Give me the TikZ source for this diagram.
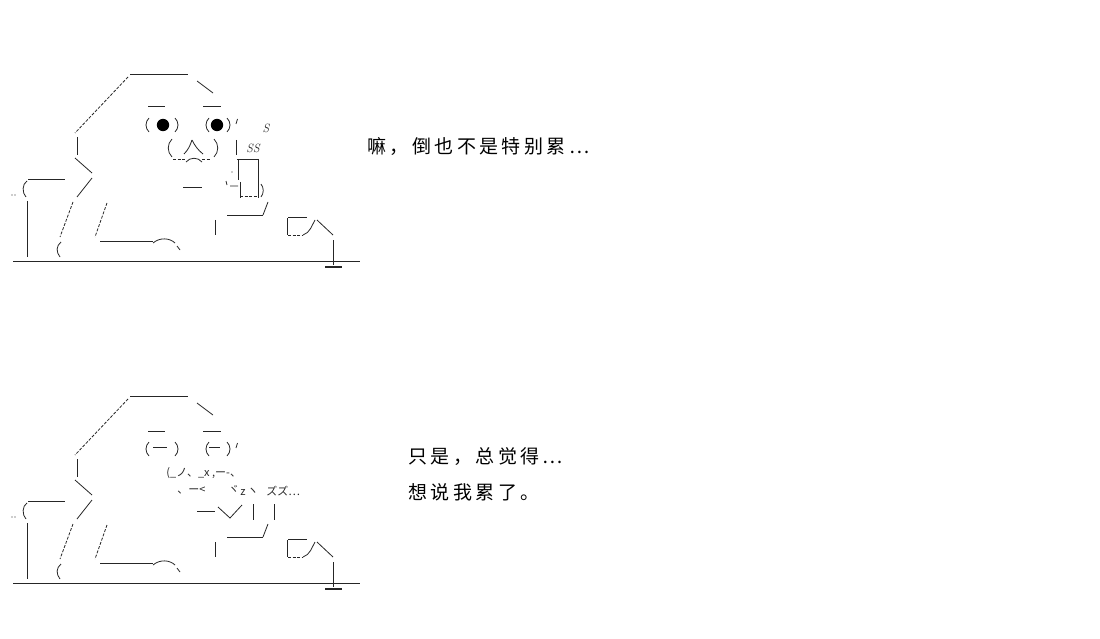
\documentclass[tikz,border=0pt]{standalone}
\usepackage{fontspec}
\newfontfamily\cjksc[LetterSpace=18]{Noto Sans CJK SC}
\newfontfamily\cjkjp{Noto Sans CJK JP}
\begin{document}
\begin{tikzpicture}[x=1pt,y=-1pt,line width=0.8pt,
  art/.style={draw=black!85},
  dots/.style={draw=black!85,dash pattern=on 3pt off 1.5pt},
  speech/.style={anchor=west,inner sep=0pt,font=\cjksc\fontsize{19}{24}\selectfont},
  aa/.style={anchor=west,inner sep=0pt,font=\cjkjp\fontsize{11}{12}\selectfont,text=black!85},
  ss/.style={inner sep=0pt,font=\fontsize{12}{12}\selectfont\itshape,text=black!85}]
\useasboundingbox (0,0) rectangle (1100,639);
\newcommand\artbody{%
  \draw[art] (130,74)--(188,74);
  \draw[art] (197,81)--(213,93);
  \draw[dots] (128,77)--(75,133);
  \draw[art] (77,137)--(77,155);
  \draw[art] (75,158)--(92,173);
  \draw[art] (92,178)--(77,197);
  \draw[art] (28,179)--(65,179);
  \draw[art] (27,181) .. controls (22,184) and (22,193) .. (26,197);
  \fill[black!85] (12,195) circle (0.6) (15,195) circle (0.6);
  \draw[art] (27,201)--(27,257);
  \draw[dots] (73,202)--(60,237);
  \draw[art] (61,242) .. controls (56,246) and (56,252) .. (60,257);
  \draw[dots] (107,203)--(95,237);
  \draw[art] (100,241)--(153,241);
  \draw[art] (153,243) .. controls (160,237) and (170,238) .. (175,243);
  \draw[art] (177,246)--(180,250);
  \draw[art] (13,261)--(360,261);
  \draw[art] (333,240)--(333,265);
  \draw[art,line width=1.3pt] (325,267)--(342,267);
  \draw[art] (268,202)--(263,215);
  \draw[art] (227,215)--(263,215);
  \draw[art] (215,220)--(215,235);
  \draw[art] (287,218)--(287,235);
  \draw[art] (288,217)--(307,217);
  \draw[dots] (288,235)--(303,235);
  \draw[art] (303,235) .. controls (310,233) and (312,225) .. (315,220);
  \draw[art] (317,220)--(333,235);
}
\newcommand\lparen[2]{\draw[art] (#1+2,#2-7) .. controls (#1-2,#2-3) and (#1-2,#2+3) .. (#1+2,#2+7);}
\newcommand\rparen[2]{\draw[art] (#1-2,#2-7) .. controls (#1+2,#2-3) and (#1+2,#2+3) .. (#1-2,#2+7);}
% ---------- figure 1
\artbody
\draw[art] (148,106)--(165,106) (203,106)--(221,106);
\lparen{147}{125} \rparen{177}{125} \lparen{207}{125} \rparen{229}{125}
\fill[black] (163,125) circle (6.2) (217,125) circle (6.2);
\draw[art] (237.5,119)--(236,124);
\node[ss] (s1) at (266,128) {S};
\node[ss] (s2) at (253,148) {SS};
\draw[art] (172,139) .. controls (167,144) and (167,152) .. (172,157);
\draw[art] (214,139) .. controls (219,144) and (219,152) .. (214,157);
\draw[art] (192,140) .. controls (190,146) and (188,150) .. (184,154);
\draw[art] (192,140) .. controls (195,146) and (198,150) .. (203,154);
\draw[dots] (173,159)--(186,159) (202,159)--(211,159);
\draw[art] (186,162) .. controls (190,157) and (198,157) .. (202,162);
\draw[art] (236,140)--(236,155);
\draw[art] (237,159)--(258,159);
\draw[art] (238,160)--(238,180);
\draw[art] (240,182)--(240,198);
\draw[art] (258,159)--(258,198);
\draw[dots] (240,196)--(258,196);
\draw[art] (261,184) .. controls (264,188) and (264,193) .. (261,197);
\draw[art] (226,181)--(227,185) (230,186)--(238,186);
\fill[black!85] (232,172) circle (0.6);
\draw[art] (183,187)--(202,187);
\node[speech] (t1) at (367,147) {嘛，倒也不是特别累…};
% ---------- figure 2
\begin{scope}[shift={(0,322)}]
\artbody
\end{scope}
\draw[art] (148,431)--(165,431) (203,431)--(221,431);
\lparen{147}{449} \rparen{177}{449} \lparen{207}{449} \rparen{229}{449}
\draw[art] (153,447)--(167,447) (209,447)--(220,447);
\draw[art] (237.5,443)--(236,448);
\node[aa] (r1) at (166,473) {(\_ノ、\_x ,ー-、};
\node[aa] (r2) at (177,491) {、ー<};
\node[aa] (r3) at (228,489) {ヾ};
\node[aa] (r4) at (240,493) {z};
\node[aa] (r5) at (247,491) {ヽ};
\node[aa] (r6) at (266,491) {ズズ…};
\draw[art] (197,511)--(215,511);
\draw[art] (218,507)--(230,518)--(242,505);
\draw[art] (253,504)--(253,520) (274,504)--(274,520);
\node[speech] (t2) at (408,457) {只是，总觉得…};
\node[speech] (t3) at (408,492) {想说我累了。};
\end{tikzpicture}
\end{document}
